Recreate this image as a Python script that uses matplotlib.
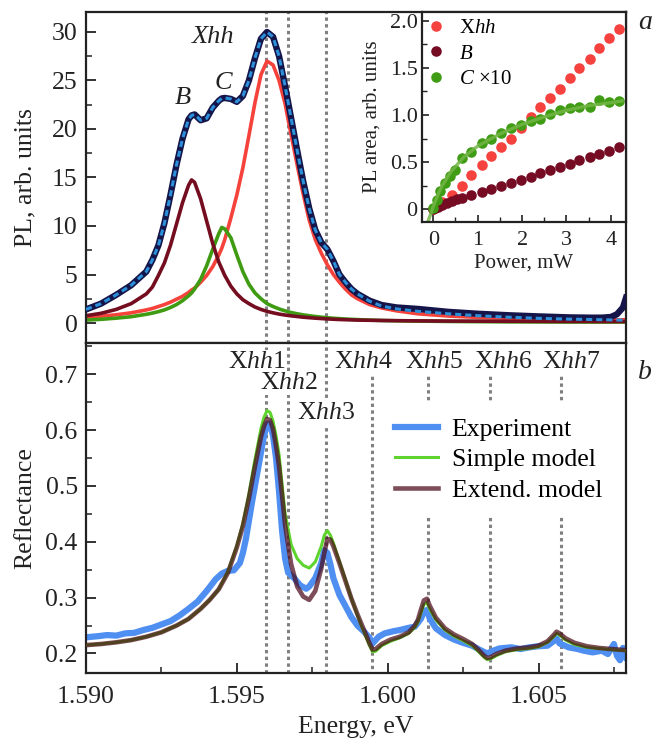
import matplotlib
matplotlib.use("Agg")
import matplotlib.pyplot as plt
from matplotlib.ticker import MultipleLocator, FixedLocator

plt.rcParams['font.family'] = ['Liberation Serif', 'DejaVu Serif']
plt.rcParams['mathtext.fontset'] = 'custom'
plt.rcParams['mathtext.rm'] = 'Liberation Serif'
plt.rcParams['mathtext.it'] = 'Liberation Serif:italic'
plt.rcParams['mathtext.bf'] = 'Liberation Serif:bold'

# ---- panel a: PL spectrum and its three components ----
pl_energy = [1.5900, 1.5905, 1.5910, 1.5915,
             1.5920, 1.5922, 1.5924, 1.5926, 1.5928, 1.5930, 1.5932, 1.5934, 1.5935, 1.5936,
             1.5938, 1.5940, 1.5942, 1.5944, 1.5945, 1.5946, 1.5948, 1.5950, 1.5952, 1.5954,
             1.5956, 1.5958, 1.5960, 1.5962, 1.5964, 1.5966, 1.5968, 1.5970, 1.5972, 1.5974,
             1.5976, 1.5978, 1.5980, 1.5982, 1.5984, 1.5986, 1.5988, 1.5990,
             1.5994, 1.5998, 1.6003, 1.6010, 1.6020, 1.6030, 1.6040, 1.6050, 1.6060, 1.6067,
             1.6071, 1.6074, 1.6076, 1.6078, 1.6079]
pl_exp = [1.4, 2.0, 2.9, 3.9,
          5.3, 6.5, 8.0, 10.3, 13.2, 16.3, 19.0, 21.0, 21.4, 21.5,
          20.9, 21.1, 22.2, 22.9, 23.15, 23.2, 23.1, 22.8, 23.4, 25.0,
          27.3, 29.3, 30.0, 29.5, 27.5, 24.4, 21.1, 17.8, 14.6, 11.8,
          9.6, 8.3, 7.6, 6.4, 5.0, 4.2, 3.5, 3.0,
          2.3, 1.85, 1.6, 1.45, 1.15, 0.95, 0.8, 0.68, 0.58, 0.55,
          0.55, 0.62, 0.9, 1.6, 2.6]
pl_fit = [1.4, 2.0, 2.9, 3.9,
          5.3, 6.5, 8.0, 10.3, 13.2, 16.3, 19.0, 21.0, 21.4, 21.5,
          20.9, 21.1, 22.2, 22.9, 23.15, 23.2, 23.1, 22.8, 23.4, 25.0,
          27.3, 29.3, 30.0, 29.5, 27.5, 24.4, 21.1, 17.8, 14.6, 11.8,
          9.6, 8.3, 7.6, 6.4, 5.0, 4.2, 3.5, 3.0,
          2.25, 1.75, 1.45, 1.2, 0.95, 0.75, 0.6, 0.48, 0.4, 0.36,
          0.34, 0.32, 0.31, 0.3, 0.3]
pl_xhh = [0.6, 0.7, 0.85, 1.05,
          1.35, 1.5, 1.7, 1.9, 2.15, 2.45, 2.75, 3.15, 3.4, 3.6,
          4.2, 4.9, 5.8, 7.0, 7.7, 8.6, 10.8, 13.2, 16.0, 19.3,
          22.7, 25.6, 27.0, 26.6, 25.0, 22.6, 19.4, 16.3, 13.3, 10.6,
          8.6, 7.2, 6.0, 5.0, 4.2, 3.5, 2.9, 2.5,
          1.9, 1.55, 1.25, 0.95, 0.72, 0.58, 0.48, 0.42, 0.37, 0.35,
          0.34, 0.33, 0.33, 0.33, 0.33]
pl_b = [0.75, 1.0, 1.4, 2.0,
        3.0, 3.7, 4.9, 6.2, 8.0, 10.2, 12.4, 14.2, 14.75, 14.5,
        12.8, 10.5, 8.2, 6.3, 5.6, 4.9, 3.8, 3.0, 2.4, 2.0,
        1.65, 1.4, 1.2, 1.05, 0.92, 0.82, 0.74, 0.67, 0.6, 0.55,
        0.5, 0.46, 0.42, 0.39, 0.36, 0.34, 0.32, 0.3,
        0.28, 0.26, 0.24, 0.22, 0.2, 0.19, 0.18, 0.17, 0.16, 0.16,
        0.15, 0.15, 0.15, 0.15, 0.15]
pl_c = [0.3, 0.38, 0.5, 0.65,
        0.9, 1.02, 1.17, 1.35, 1.6, 1.9, 2.3, 2.8, 3.1, 3.5,
        4.5, 5.9, 7.6, 9.2, 9.85, 9.7, 8.8, 7.0, 5.3, 4.0,
        3.1, 2.5, 2.0, 1.7, 1.45, 1.25, 1.08, 0.95, 0.84, 0.75,
        0.67, 0.6, 0.54, 0.49, 0.45, 0.41, 0.38, 0.35,
        0.3, 0.26, 0.23, 0.2, 0.16, 0.14, 0.12, 0.11, 0.1, 0.1,
        0.1, 0.1, 0.1, 0.1, 0.1]

# ---- inset: integrated PL vs power ----
p_xhh = [0.0, 0.1, 0.2, 0.42, 0.64, 0.86, 1.09, 1.31, 1.53, 1.75, 1.97,
         2.19, 2.41, 2.63, 2.85, 3.07, 3.29, 3.52, 3.74, 3.96, 4.18]
a_xhh = [0.0, 0.04, 0.075, 0.15, 0.25, 0.36, 0.47, 0.57, 0.66, 0.75, 0.86,
         0.98, 1.08, 1.18, 1.28, 1.39, 1.50, 1.59, 1.71, 1.82, 1.91]
p_b = [0.0, 0.05, 0.1, 0.2, 0.3, 0.42, 0.53, 0.64, 0.86, 1.09, 1.31, 1.53,
       1.75, 1.97, 2.19, 2.41, 2.63, 2.85, 3.07, 3.29, 3.52, 3.74, 3.96, 4.18]
a_b = [0.0, 0.015, 0.03, 0.05, 0.07, 0.09, 0.105, 0.12, 0.155, 0.185, 0.215, 0.25,
       0.28, 0.31, 0.345, 0.38, 0.42, 0.45, 0.48, 0.52, 0.55, 0.59, 0.62, 0.66]
p_c = [0.0, 0.08, 0.15, 0.26, 0.38, 0.49, 0.64, 0.86, 1.09, 1.31, 1.53, 1.75,
       1.97, 2.19, 2.41, 2.63, 2.85, 3.07, 3.29, 3.52, 3.74, 3.96, 4.18]
a_c = [0.01, 0.10, 0.19, 0.28, 0.35, 0.42, 0.54, 0.61, 0.70, 0.75, 0.81, 0.86,
       0.89, 0.94, 0.96, 1.01, 1.05, 1.07, 1.08, 1.08, 1.16, 1.14, 1.15]
p_cfit = [-0.12, -0.05, 0.0, 0.1, 0.2, 0.4, 0.7, 1.0, 1.5, 2.0, 2.5, 3.0, 3.5, 4.0, 4.25]
a_cfit = [-0.13, -0.04, 0.03, 0.15, 0.25, 0.40, 0.56, 0.67, 0.80, 0.90, 0.98, 1.05, 1.10, 1.13, 1.15]

# ---- panel b: reflectance ----
r_energy = [1.5900, 1.5905, 1.5910, 1.5915, 1.5920, 1.5925, 1.5930, 1.5934, 1.5938, 1.5941,
            1.5944, 1.5947, 1.5950, 1.5952, 1.5954, 1.5956, 1.5958, 1.5959, 1.5960, 1.5961,
            1.5962, 1.5963, 1.5964, 1.5966, 1.5968, 1.5970, 1.5972, 1.5974, 1.5976, 1.5978,
            1.5979, 1.5980, 1.5981, 1.5982, 1.5984, 1.5986, 1.5988, 1.5990, 1.5992, 1.5994,
            1.5995, 1.5996, 1.5998, 1.6001, 1.6004, 1.6007, 1.6009, 1.6010, 1.6011, 1.6012,
            1.6013, 1.6014, 1.6016, 1.6019, 1.6022, 1.6025, 1.6028, 1.6030, 1.6032, 1.6033,
            1.6034, 1.6036, 1.6039, 1.6043, 1.6047, 1.6050, 1.6053, 1.6055, 1.6056, 1.6057,
            1.6059, 1.6062, 1.6066, 1.6070, 1.6074, 1.6079]
r_extend = [0.215, 0.217, 0.220, 0.224, 0.230, 0.238, 0.250, 0.262, 0.280, 0.296,
            0.315, 0.344, 0.390, 0.428, 0.478, 0.535, 0.588, 0.607, 0.620, 0.618,
            0.602, 0.572, 0.535, 0.430, 0.360, 0.320, 0.302, 0.296, 0.312, 0.352,
            0.380, 0.405, 0.404, 0.392, 0.362, 0.330, 0.298, 0.270, 0.244, 0.218,
            0.207, 0.208, 0.217, 0.225, 0.230, 0.238, 0.250, 0.260, 0.278, 0.295,
            0.298, 0.285, 0.264, 0.245, 0.234, 0.226, 0.217, 0.207, 0.196, 0.192,
            0.193, 0.199, 0.205, 0.209, 0.211, 0.214, 0.222, 0.233, 0.239, 0.236,
            0.227, 0.219, 0.213, 0.210, 0.208, 0.206]
r_simple = [0.215, 0.217, 0.220, 0.224, 0.230, 0.238, 0.250, 0.262, 0.280, 0.296,
            0.315, 0.346, 0.393, 0.433, 0.486, 0.547, 0.603, 0.623, 0.635, 0.632,
            0.616, 0.590, 0.556, 0.450, 0.395, 0.370, 0.358, 0.353, 0.364, 0.392,
            0.412, 0.420, 0.412, 0.398, 0.365, 0.332, 0.298, 0.268, 0.240, 0.214,
            0.203, 0.204, 0.214, 0.222, 0.228, 0.236, 0.247, 0.256, 0.272, 0.288,
            0.291, 0.279, 0.260, 0.242, 0.231, 0.223, 0.214, 0.204, 0.193, 0.189,
            0.190, 0.196, 0.203, 0.207, 0.209, 0.212, 0.220, 0.230, 0.236, 0.233,
            0.224, 0.216, 0.211, 0.209, 0.207, 0.205]
exp_energy = [1.5900, 1.5904, 1.5907, 1.5910, 1.5913, 1.5916, 1.5919, 1.5922, 1.5925, 1.5928,
              1.5931, 1.5934, 1.5937, 1.5940, 1.5943, 1.5945, 1.5947, 1.5949, 1.5951, 1.5952,
              1.5953, 1.5955, 1.5957, 1.5958, 1.5959, 1.5960, 1.5961, 1.5962, 1.5963, 1.5964,
              1.5965, 1.5966, 1.5967, 1.5969, 1.5971, 1.5973, 1.5974, 1.5976, 1.5978, 1.5979,
              1.5980, 1.5981, 1.5982, 1.5984, 1.5986, 1.5988, 1.5990, 1.5992, 1.5994, 1.5995,
              1.5997, 1.5999, 1.6002, 1.6004, 1.6007, 1.6009, 1.6011, 1.6012, 1.6013, 1.6014,
              1.6016, 1.6019, 1.6022, 1.6025, 1.6028, 1.6030, 1.6033, 1.6035, 1.6037, 1.6041,
              1.6044, 1.6047, 1.6050, 1.6053, 1.6055, 1.6056, 1.6057, 1.6060, 1.6063, 1.6065,
              1.6068, 1.6071, 1.6073, 1.6075, 1.6076, 1.6077, 1.6078, 1.6079]
r_exp = [0.229, 0.231, 0.233, 0.232, 0.236, 0.237, 0.242, 0.246, 0.252, 0.258,
         0.268, 0.280, 0.293, 0.312, 0.333, 0.343, 0.348, 0.349, 0.362, 0.380,
         0.405, 0.470, 0.530, 0.560, 0.590, 0.610, 0.612, 0.590, 0.550, 0.490,
         0.420, 0.370, 0.345, 0.335, 0.322, 0.316, 0.320, 0.335, 0.362, 0.385,
         0.380, 0.360, 0.335, 0.305, 0.285, 0.265, 0.250, 0.240, 0.228, 0.218,
         0.230, 0.236, 0.240, 0.242, 0.246, 0.248, 0.262, 0.275, 0.278, 0.262,
         0.245, 0.233, 0.225, 0.219, 0.214, 0.208, 0.200, 0.205, 0.209, 0.211,
         0.208, 0.211, 0.213, 0.214, 0.222, 0.227, 0.218, 0.211, 0.208, 0.205,
         0.202, 0.205, 0.199, 0.217, 0.196, 0.188, 0.210, 0.193]

xhh_energy = [1.59598, 1.59669, 1.59795, 1.59949, 1.60135, 1.60340, 1.60573]
xhh_labels = ['X$\\mathit{hh}$1', 'X$\\mathit{hh}$2', 'X$\\mathit{hh}$3', 'X$\\mathit{hh}$4',
              'X$\\mathit{hh}$5', 'X$\\mathit{hh}$6', 'X$\\mathit{hh}$7']
xhh_label_x = [1.59565, 1.59674, 1.59797, 1.59920, 1.60153, 1.60382, 1.60608]
xhh_label_y = [0.722, 0.684, 0.631, 0.722, 0.722, 0.722, 0.722]

ink = '#222222'
gray = '#808080'
dots = (0, (1.1, 1.1))

fig = plt.figure(figsize=(6.62, 7.40), dpi=100)
ax_pl = fig.add_axes([0.1299, 0.5365, 0.8157, 0.4473])
ax_r = fig.add_axes([0.1299, 0.0905, 0.8157, 0.4459], sharex=ax_pl)
ax_in = fig.add_axes([0.637, 0.7004, 0.3086, 0.2834])

# panel a
for e in xhh_energy[:3]:
    ax_pl.axvline(e, color=gray, ls=dots, lw=2.2, zorder=1)
ax_pl.plot(pl_energy, pl_xhh, color='#f5423b', lw=2.6, zorder=2)
ax_pl.plot(pl_energy, pl_c, color='#3e9b12', lw=2.6, zorder=2)
ax_pl.plot(pl_energy, pl_b, color='#750d20', lw=2.6, zorder=2)
ax_pl.plot(pl_energy, pl_exp, color='#15154a', lw=4.6, zorder=3)
ax_pl.plot(pl_energy, pl_fit, color='#2b90d9', lw=2.2, ls=(0, (2.0, 1.3)), zorder=4)
ax_pl.text(1.59322, 23.2, 'B', style='italic', fontsize=19, ha='center', va='center', color=ink)
ax_pl.text(1.59455, 24.7, 'C', style='italic', fontsize=19, ha='center', va='center', color=ink)
ax_pl.text(1.59422, 29.5, 'Xhh', style='italic', fontsize=19, ha='center', va='center', color=ink)
ax_pl.set_ylim(-2.06, 32.06)
ax_pl.yaxis.set_major_locator(MultipleLocator(5))
ax_pl.yaxis.set_minor_locator(MultipleLocator(2.5))
ax_pl.set_ylabel('PL, arb. units', fontsize=18.5, color=ink)
ax_pl.yaxis.label.set_verticalalignment('center')
ax_pl.yaxis.set_label_coords(-0.113, 0.5)
ax_pl.tick_params(axis='x', which='both', bottom=False, top=False, labelbottom=False)
ax_pl.tick_params(axis='y', which='both', direction='in', right=False, labelsize=18.5,
                  colors=ink, pad=6)
ax_pl.tick_params(axis='y', which='major', length=7, width=1.3)
ax_pl.tick_params(axis='y', which='minor', length=4.5, width=1.1)

# inset
ax_in.set_zorder(5)
ax_in.set_facecolor('white')
ax_in.plot(p_xhh, a_xhh, 'o', ms=7.6, color='#f5423f', mew=0, label='X$\\mathit{hh}$')
ax_in.plot(p_b, a_b, 'o', ms=7.6, color='#760b24', mew=0, label='$B$')
ax_in.plot(p_c, a_c, 'o', ms=7.6, color='#3f9c14', mew=0, label='$C$ ×10')
ax_in.plot(p_cfit, a_cfit, color='#74b545', lw=2.4, alpha=0.85)
ax_in.set_xlim(-0.26, 4.34)
ax_in.set_ylim(-0.131, 2.092)
ax_in.xaxis.set_major_locator(MultipleLocator(1))
ax_in.xaxis.set_minor_locator(MultipleLocator(0.5))
ax_in.yaxis.set_major_locator(MultipleLocator(0.5))
ax_in.yaxis.set_minor_locator(MultipleLocator(0.25))
ax_in.yaxis.set_major_formatter(plt.FuncFormatter(lambda v, p: '0' if abs(v) < 1e-9 else f'{v:.1f}'))
ax_in.tick_params(which='both', direction='in', labelsize=16, colors=ink)
ax_in.tick_params(axis='y', pad=3)
ax_in.tick_params(axis='x', pad=7)
ax_in.tick_params(which='major', length=5, width=1.2)
ax_in.tick_params(which='minor', length=3.5, width=1.0)
ax_in.set_xlabel('Power, mW', fontsize=15, color=ink)
ax_in.xaxis.label.set_verticalalignment('center')
ax_in.xaxis.set_label_coords(0.5, -0.197)
ax_in.set_ylabel('PL area, arb. units', fontsize=15, color=ink)
ax_in.yaxis.label.set_verticalalignment('center')
ax_in.yaxis.set_label_coords(-0.245, 0.5)
ax_in.legend(loc='upper left', frameon=False, fontsize=15, numpoints=1, handlelength=0.8,
             handletextpad=0.7, labelspacing=0.3, borderpad=0.2, borderaxespad=0.1)

# panel b
for i, e in enumerate(xhh_energy):
    if i < 3:
        ax_r.axvline(e, color=gray, ls=dots, lw=2.2, zorder=1)
    else:
        ax_r.vlines(e, 0.1, 0.712, color=gray, ls=dots, lw=2.2, zorder=1)
for lab, x, y in zip(xhh_labels, xhh_label_x, xhh_label_y):
    ax_r.text(x, y, lab, fontsize=18.5, ha='center', va='center', color=ink, zorder=6,
              bbox=dict(facecolor='white', edgecolor='none', pad=0.6))
h_exp, = ax_r.plot(exp_energy, r_exp, color='#4f8ff2', lw=4.5, zorder=2, label='Experiment')
h_sim, = ax_r.plot(r_energy, r_simple, color='#5fd42e', lw=2.2, zorder=3, label='Simple model')
h_ext, = ax_r.plot(r_energy, r_extend, color='#4b0a19', alpha=0.72, lw=3.3, zorder=4,
                   label='Extend. model')
ax_r.legend(handles=[h_exp, h_sim, h_ext], loc='upper left', bbox_to_anchor=(0.544, 0.821),
            fontsize=18.5, frameon=True, facecolor='white', edgecolor='none', framealpha=1,
            fancybox=False, handlelength=1.65, handletextpad=0.55, labelspacing=0.3,
            borderpad=0.6, borderaxespad=0).set_zorder(7)
ax_r.set_xlim(1.590, 1.6079)
ax_r.set_ylim(0.165, 0.756)
ax_r.xaxis.set_major_locator(FixedLocator([1.590, 1.595, 1.600, 1.605]))
ax_r.xaxis.set_minor_locator(FixedLocator([1.5925, 1.5975, 1.6025, 1.6075]))
ax_r.xaxis.set_major_formatter(plt.FuncFormatter(lambda v, p: f'{v:.3f}'))
ax_r.yaxis.set_major_locator(MultipleLocator(0.1))
ax_r.yaxis.set_minor_locator(MultipleLocator(0.05))
ax_r.tick_params(which='both', direction='in', top=False, right=False, labelsize=18.5, colors=ink)
ax_r.tick_params(axis='y', pad=6)
ax_r.tick_params(axis='x', pad=9)
ax_r.tick_params(which='major', length=7, width=1.3)
ax_r.tick_params(which='minor', length=4.5, width=1.1)
ax_r.set_ylabel('Reflectance', fontsize=18.5, color=ink)
ax_r.yaxis.label.set_verticalalignment('center')
ax_r.yaxis.set_label_coords(-0.113, 0.5)
ax_r.set_xlabel('Energy, eV', fontsize=18.5, color=ink)
ax_r.xaxis.label.set_verticalalignment('center')
ax_r.xaxis.set_label_coords(0.5, -0.164)

for ax in (ax_pl, ax_r, ax_in):
    for s in ax.spines.values():
        s.set_linewidth(1.6)
        s.set_color(ink)

fig.text(0.974, 0.970, 'a', style='italic', fontsize=20, ha='center', va='center', color=ink)
fig.text(0.974, 0.497, 'b', style='italic', fontsize=20, ha='center', va='center', color=ink)

fig.savefig('out.png', dpi=100)
